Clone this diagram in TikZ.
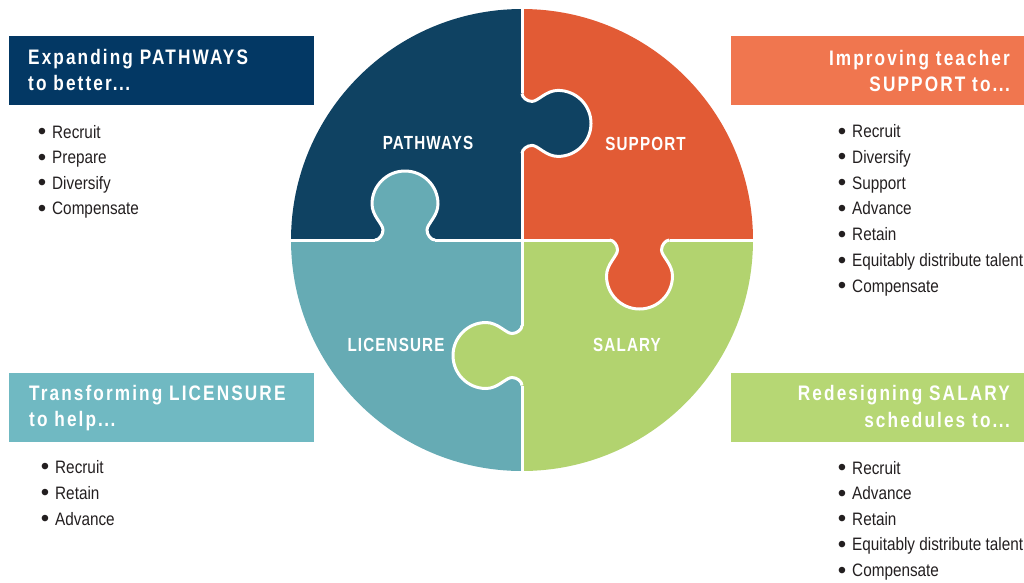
\documentclass[tikz,border=0pt]{standalone}
\usepackage{fontspec}
\setmainfont{Liberation Sans}
\newfontfamily\bodyfont[FakeStretch=0.85]{Liberation Sans}
\newfontfamily\bulletfont{Liberation Sans}
\newfontfamily\titlefont[FakeStretch=0.82,LetterSpace=10]{Liberation Sans Bold}
\newfontfamily\labelfont[FakeStretch=0.80,LetterSpace=6]{Liberation Sans Bold}
\definecolor{navyP}{HTML}{0F4262}
\definecolor{navyB}{HTML}{033864}
\definecolor{orangeP}{HTML}{E25B35}
\definecolor{orangeB}{HTML}{F0764F}
\definecolor{tealP}{HTML}{66ABB4}
\definecolor{tealB}{HTML}{70B9C2}
\definecolor{greenP}{HTML}{B2D36F}
\definecolor{greenB}{HTML}{B6D774}
\definecolor{txt}{HTML}{231F20}
\newcommand\jigtab[3]{%
  \begin{scope}[shift={#1},rotate=#2]
    \fill[#3] (0,-30) .. controls (0,-26) and (5,-22) .. (10,-22)
      .. controls (16,-22) and (24,-33) .. (36,-33)
      .. controls (54.2,-33) and (69,-18.2) .. (69,0)
      .. controls (69,18.2) and (54.2,33) .. (36,33)
      .. controls (24,33) and (16,22) .. (10,22)
      .. controls (5,22) and (0,26) .. (0,30) -- cycle;
    \draw[seam] (0,-30) .. controls (0,-26) and (5,-22) .. (10,-22)
      .. controls (16,-22) and (24,-33) .. (36,-33)
      .. controls (54.2,-33) and (69,-18.2) .. (69,0)
      .. controls (69,18.2) and (54.2,33) .. (36,33)
      .. controls (24,33) and (16,22) .. (10,22)
      .. controls (5,22) and (0,26) .. (0,30);
  \end{scope}}
\newcommand\dotsx{.\kern1.4pt.\kern1.4pt.}
\newcommand\bul{\makebox[14.4pt][l]{\bulletfont\fontsize{24}{24}\selectfont\raisebox{-1.6pt}{•}}}
\tikzset{
  seam/.style={draw=white,line width=3pt},
  titletxt/.style={text=white,inner sep=0pt,font=\titlefont\fontsize{21}{25}\selectfont},
  piecetxt/.style={text=white,inner sep=0pt,anchor=base,font=\labelfont\fontsize{19}{22}\selectfont},
  itemtxt/.style={text=txt,inner sep=0pt,anchor=base west,font=\bodyfont\fontsize{18}{22}\selectfont},
}
\begin{document}
\begin{tikzpicture}[x=1pt,y=-1pt]
\useasboundingbox (0,0) rectangle (1024,582);
% quadrants
\begin{scope}
  \clip (522,240) circle[radius=231];
  \fill[navyP] (280,0) rectangle (522,240);
  \fill[orangeP] (522,0) rectangle (770,240);
  \fill[tealP] (280,240) rectangle (522,480);
  \fill[greenP] (522,240) rectangle (770,480);
\end{scope}
% tabs
\jigtab{(522,123.4)}{0}{navyP}
\jigtab{(405,240)}{90}{tealP}
\jigtab{(639.5,240)}{-90}{orangeP}
\jigtab{(522,355.5)}{180}{greenP}
% dividers
\draw[seam] (522,5) -- (522,93.4) (522,153.4) -- (522,325.5) (522,385.5) -- (522,476);
\draw[seam] (286,240) -- (375,240) (435,240) -- (609.5,240) (669.5,240) -- (758,240);
% piece labels
\node[piecetxt] (lp) at (428,149.5) {PATHWAYS};
\node[piecetxt] (ls) at (645.5,150.5) {SUPPORT};
\node[piecetxt] (ll) at (396,351.7) {LICENSURE};
\node[piecetxt] (lsa) at (627,351.7) {SALARY};
% title boxes
\fill[navyB] (9,36) rectangle (314,105);
\fill[orangeB] (731,36) rectangle (1024,105);
\fill[tealB] (9,373) rectangle (314,442);
\fill[greenB] (731,373) rectangle (1024,442);
\node[titletxt,anchor=base west] (t1a) at (28,64) {Expanding PATHWAYS};
\node[titletxt,anchor=base west] (t1b) at (28,90) {to better\dotsx};
\node[titletxt,anchor=base east] (t2a) at (1010,65) {Improving teacher};
\node[titletxt,anchor=base east] (t2b) at (1010,91.5) {SUPPORT to\dotsx};
\node[titletxt,anchor=base west] (t3a) at (29,400) {Transforming LICENSURE};
\node[titletxt,anchor=base west] (t3b) at (29,426) {to help\dotsx};
\node[titletxt,anchor=base east] (t4a) at (1010,400) {Redesigning SALARY};
\node[titletxt,anchor=base east] (t4b) at (1010,427) {schedules to\dotsx};
% lists
\foreach \t [count=\i] in {Recruit,Prepare,Diversify,Compensate}
  \node[itemtxt] (pa\i) at (37.6,{138+25.6*(\i-1)}) {\bul\t};
\foreach \t [count=\i] in {Recruit,Diversify,Support,Advance,Retain,Equitably distribute talent,Compensate}
  \node[itemtxt] (su\i) at (837.6,{137.5+25.8*(\i-1)}) {\bul\t};
\foreach \t [count=\i] in {Recruit,Retain,Advance}
  \node[itemtxt] (li\i) at (40.6,{473+26*(\i-1)}) {\bul\t};
\foreach \t [count=\i] in {Recruit,Advance,Retain,Equitably distribute talent,Compensate}
  \node[itemtxt] (sa\i) at (837.6,{474+25.6*(\i-1)}) {\bul\t};
\end{tikzpicture}
\end{document}
